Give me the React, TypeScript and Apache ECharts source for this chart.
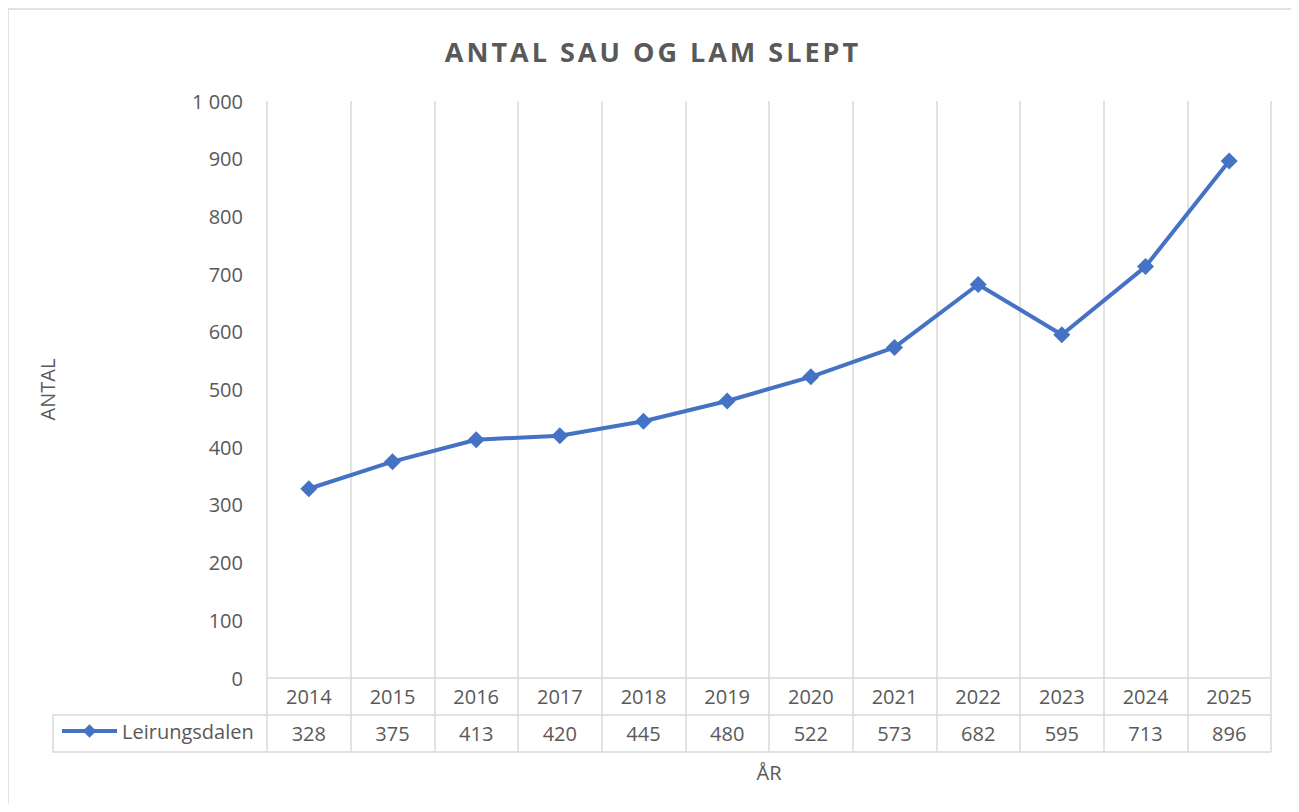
import React, { useEffect, useRef } from "react";
import * as echarts from "echarts";

const TITLE = "ANTAL SAU OG LAM SLEPT";
const SERIES_NAME = "Leirungsdalen";
const years = ["2014", "2015", "2016", "2017", "2018", "2019", "2020", "2021", "2022", "2023", "2024", "2025"];
const values = [328, 375, 413, 420, 445, 480, 522, 573, 682, 595, 713, 896];
const Y_MIN = 0;
const Y_MAX = 1000;
const Y_STEP = 100;
const Y_NAME = "ANTAL";
const X_NAME = "ÅR";

const W = 1283;
const H = 796;
const GRID_COLOR = "#d9d9d9";
const TEXT_COLOR = "#595959";
const LINE_COLOR = "#4472C4";
const FONT = "'Open Sans', 'Noto Sans', sans-serif";

const fmt = (v: number) => String(v).replace(/\B(?=(\d{3})+(?!\d))/g, " ");

export default function App() {
  const ref = useRef<HTMLDivElement>(null);
  useEffect(() => {
    if (!ref.current) return;
    const chart = echarts.init(ref.current, null, { renderer: "svg" });
    chart.setOption({
      animation: false,
      textStyle: { fontFamily: FONT },
      graphic: [
        {
          type: "rect",
          z: -10,
          shape: { x: 0, y: 1, width: 3000, height: 3000 },
          style: { fill: "#fff", stroke: GRID_COLOR, lineWidth: 1.5 },
          silent: true,
        },
        {
          type: "text",
          x: 645,
          y: 43,
          style: {
            text: TITLE,
            fill: TEXT_COLOR,
            font: `bold 27px ${FONT}`,
            textAlign: "center",
            textVerticalAlign: "middle",
          },
          silent: true,
        },
        {
          type: "polyline",
          shape: { points: [[259, 707], [45, 707], [45, 744], [259, 744]] },
          style: { stroke: GRID_COLOR, lineWidth: 1.5, fill: "none" },
          silent: true,
        },
      ],
      legend: {
        show: true,
        left: 52,
        top: 713,
        padding: 0,
        itemWidth: 55,
        itemHeight: 17,
        itemGap: 5,
        lineStyle: { width: 4, color: LINE_COLOR },
        textStyle: { fontSize: 20, color: TEXT_COLOR, fontFamily: FONT },
        data: [SERIES_NAME],
      },
      grid: [
        { left: 259, right: 20, top: 93, bottom: 126 },
        { left: 259, right: 20, top: 670, bottom: 52 },
      ],
      xAxis: [
        {
          type: "category",
          gridIndex: 0,
          data: years,
          boundaryGap: true,
          axisLine: { show: false },
          axisTick: { show: false },
          axisLabel: {
            fontSize: 20,
            color: TEXT_COLOR,
            margin: 18,
            verticalAlign: "middle",
            fontFamily: FONT,
          },
          splitLine: { show: true, lineStyle: { color: GRID_COLOR, width: 1.5 } },
        },
        {
          type: "category",
          gridIndex: 1,
          data: years,
          boundaryGap: true,
          axisLine: { show: false },
          axisTick: { show: false },
          axisLabel: {
            inside: true,
            fontSize: 20,
            color: TEXT_COLOR,
            margin: 19,
            verticalAlign: "middle",
            fontFamily: FONT,
            formatter: (_v: string, i: number) => String(values[i]),
          },
          splitLine: { show: true, lineStyle: { color: GRID_COLOR, width: 1.5 } },
          name: X_NAME,
          nameLocation: "middle",
          nameGap: 20,
          nameTextStyle: { fontSize: 20, color: TEXT_COLOR, verticalAlign: "middle", fontFamily: FONT },
        },
      ],
      yAxis: [
        {
          type: "value",
          gridIndex: 0,
          min: Y_MIN,
          max: Y_MAX,
          interval: Y_STEP,
          axisLine: { show: false },
          axisTick: { show: false },
          splitLine: { show: false },
          axisLabel: {
            fontSize: 20,
            color: TEXT_COLOR,
            margin: 24,
            fontFamily: FONT,
            formatter: (v: number) => fmt(v),
          },
          name: Y_NAME,
          nameLocation: "middle",
          nameRotate: 90,
          nameGap: 210,
          nameTextStyle: { fontSize: 20, color: TEXT_COLOR, fontFamily: FONT },
        },
        {
          type: "value",
          gridIndex: 1,
          min: 0,
          max: 2,
          interval: 1,
          axisLine: { show: false },
          axisTick: { show: false },
          axisLabel: { show: false },
          splitLine: { show: true, lineStyle: { color: GRID_COLOR, width: 1.5 } },
        },
      ],
      series: [
        {
          name: SERIES_NAME,
          type: "line",
          xAxisIndex: 0,
          yAxisIndex: 0,
          data: values,
          symbol: "diamond",
          symbolSize: 17,
          lineStyle: { color: LINE_COLOR, width: 4 },
          itemStyle: { color: LINE_COLOR },
        },
      ],
    });
    const texts = ref.current.querySelectorAll("text");
    texts.forEach((t) => {
      if (t.textContent === TITLE) t.setAttribute("letter-spacing", "3px");
    });
    return () => chart.dispose();
  }, []);
  return <div ref={ref} style={{ width: W, height: H }} />;
}
